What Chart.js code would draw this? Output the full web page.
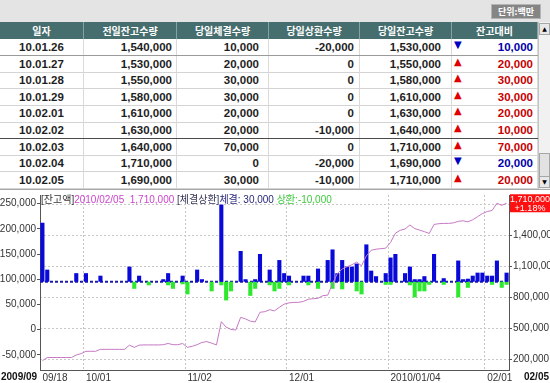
<!DOCTYPE html>
<html>
<head>
<meta charset="utf-8">
<script src="https://cdn.jsdelivr.net/npm/chart.js@4.4.1/dist/chart.umd.min.js"></script>
<style>
  html, body { margin: 0; padding: 0; }
  body { width: 550px; height: 383px; overflow: hidden; background: #fff; position: relative; }
  #topbar { position: absolute; left: 0; top: 0; width: 550px; height: 22px; background: #e4e4e4; }
  #unit { position: absolute; left: 491px; top: 4px; width: 50px; height: 15px; background: #858585;
          border: 1px solid #b4b4b4; box-sizing: border-box; color: #fff;
          font: bold 9px 'Noto Sans CJK KR'; line-height: 13px; text-align: center; }
  #grid { position: absolute; left: 0; top: 22px; width: 538px; height: 167px; }
  .hd { position: absolute; top: 0; height: 17px; background: #466e6e; color: #fff;
        font: bold 10px 'Noto Sans CJK KR'; line-height: 17px; text-align: center;
        box-sizing: border-box; border-right: 1px solid #86a3a3; }
  .cell { position: absolute; box-sizing: border-box; border-right: 1px solid #dadada;
          font: bold 11.5px 'Liberation Sans Narrow', 'Liberation Sans', sans-serif;
          color: #1e1e1e; white-space: nowrap; }
  .rowline { position: absolute; left: 0; width: 538px; height: 1px; background: #d4d4d4; }
  .tri { position: absolute; left: 2px; font: 10px 'DejaVu Sans'; }
  #sb { position: absolute; left: 538px; top: 22px; width: 12px; height: 167px; background: #f1f1f1;
        border-left: 1px solid #c4c4c4; box-sizing: border-box; }
  .sbtn { position: absolute; left: 0; width: 11px; height: 12px; background: #e8e8e8;
          border: 1px solid #a6a6a6; box-sizing: border-box; font: 6px 'DejaVu Sans';
          text-align: center; line-height: 10px; color: #000; }
  #thumb { position: absolute; left: 0; top: 131px; width: 11px; height: 24px; background: #e2e2e2;
           border: 1px solid #a6a6a6; box-sizing: border-box; }
  #sep { position: absolute; left: 0; top: 189px; width: 550px; height: 1px; background: #a8a8a8; }
  #chartBox { position: absolute; left: 0; top: 188px; width: 550px; height: 195px; }
</style>
</head>
<body>
<div id="topbar"><div id="unit">단위:백만</div></div>
<div id="grid"></div>
<div id="sb">
  <div class="sbtn" style="top:1px">▲</div>
  <div id="thumb"></div>
  <div class="sbtn" style="top:154px">▼</div>
</div>
<div id="chartBox"><canvas id="chart"></canvas></div>
<div id="sep"></div>
<script>
// ---- table data ----
const HEADERS = ['일자', '전일잔고수량', '당일체결수량', '당일상환수량', '당일잔고수량', '잔고대비'];
const TBL_DATES = ['10.01.26', '10.01.27', '10.01.28', '10.01.29', '10.02.01', '10.02.02', '10.02.03', '10.02.04', '10.02.05'];
const PREV_BAL = [1540000, 1530000, 1550000, 1580000, 1610000, 1630000, 1640000, 1710000, 1690000];
const EXEC_QTY = [10000, 20000, 30000, 30000, 20000, 20000, 70000, 0, 30000];
const REPAY_QTY = [-20000, 0, 0, 0, 0, -10000, 0, -20000, -10000];
const TODAY_BAL = [1530000, 1550000, 1580000, 1610000, 1630000, 1640000, 1710000, 1690000, 1710000];
const BAL_DIFF = [-10000, 20000, 30000, 30000, 20000, 10000, 70000, -20000, 20000];

// ---- chart data ----
const DATES = [
  '09/18', '09/21', '09/22', '09/23', '09/24', '09/25', '09/28', '09/29', '09/30',
  '10/01', '10/05', '10/06', '10/07', '10/08', '10/09', '10/12', '10/13', '10/14', '10/15', '10/16',
  '10/19', '10/20', '10/21', '10/22', '10/23', '10/26', '10/27', '10/28', '10/29', '10/30',
  '11/02', '11/03', '11/04', '11/05', '11/06', '11/09', '11/10', '11/11', '11/12', '11/13',
  '11/16', '11/17', '11/18', '11/19', '11/20', '11/23', '11/24', '11/25', '11/26', '11/27', '11/30',
  '12/01', '12/02', '12/03', '12/04', '12/07', '12/08', '12/09', '12/10', '12/11', '12/14',
  '12/15', '12/16', '12/17', '12/18', '12/21', '12/22', '12/23', '12/24', '12/28', '12/29', '12/30',
  '01/04', '01/05', '01/06', '01/07', '01/08', '01/11', '01/12', '01/13', '01/14', '01/15',
  '01/18', '01/19', '01/20', '01/21', '01/22', '01/25', '01/26', '01/27', '01/28', '01/29',
  '02/01', '02/02', '02/03', '02/04', '02/05'
];
const TICK_DATES = ['09/18', '10/01', '11/02', '12/01', '01/04', '02/01'];
const TICK_TEXT = ['09/18', '10/01', '11/02', '12/01', '2010/01/04', '02/01'];
const FIRST_LABEL = '2009/09';
const LAST_DATE = '2010/02/05';

// balance (right axis)
const BALANCE = [
  185000, 216000, 216000, 216000, 216000, 216000, 216000, 240000, 254000,
  276000, 276000, 276000, 295000, 295000, 295000, 295000, 295000, 295000, 336000, 314000,
  336000, 338000, 338000, 338000, 338000, 340000, 352000, 340000, 340000, 352000,
  314000, 325000, 340000, 362000, 370000, 355000, 338000, 563000, 510000, 488000,
  482000, 605000, 590000, 568000, 560000, 654000, 660000, 679000, 668000, 702000, 733000,
  745000, 750000, 750000, 760000, 781000, 785000, 790000, 815000, 820000, 930000,
  1030000, 1073000, 1095000, 1115000, 1140000, 1105000, 1200000, 1255000, 1265000, 1270000, 1275000,
  1330000, 1420000, 1448000, 1460000, 1500000, 1465000, 1450000, 1435000, 1418000, 1505000,
  1512000, 1515000, 1515000, 1520000, 1535000, 1540000, 1530000, 1550000, 1580000, 1610000,
  1630000, 1640000, 1710000, 1690000, 1710000
];
// bar heights above / below the bar baseline, in thousands of left-axis units
const EXEC_BAR = [
  117, 24, 0, 0, 0, 0, 0, 17, 0,
  17, 0, 0, 12, 0, 0, 0, 0, 0, 30, 0, 12, 0, 0, 0, 0, 5, 17, 0, 0, 12,
  0, 0, 24, 5, 0, 0, 0, 153, 0, 0, 0, 61, 5, 0, 5, 55, 0, 24, 0, 43, 17,
  12, 0, 0, 12, 12, 0, 26, 0, 43, 64, 17, 43, 30, 30, 36, 0, 74, 22, 11, 0, 17,
  48, 55, 0, 17, 30, 5, 5, 11, 0, 55, 0, 7, 0, 0, 42, 5, 6, 12, 18, 18,
  12, 12, 42, 0, 18
];
const REPAY_BAR = [
  0, 0, 0, 0, 0, 0, 0, 0, 0,
  0, 0, 0, 0, 0, 0, 0, 0, 0, 0, 14, 0, 0, 7, 0, 0, 0, 7, 14, 0, 5,
  25, 0, 0, 0, 0, 19, 0, 7, 37, 19, 0, 0, 0, 28, 14, 0, 0, 7, 19, 14, 0,
  7, 0, 0, 0, 7, 0, 14, 0, 0, 14, 0, 15, 0, 0, 19, 25, 0, 0, 0, 0, 6,
  6, 0, 0, 0, 7, 31, 19, 19, 6, 0, 0, 6, 0, 0, 31, 0, 12, 0, 0, 0,
  0, 6, 0, 12, 6
];
const BAR_BASE = 95000;
const LEFT_TICKS = [-50000, 0, 50000, 100000, 150000, 200000, 250000];
const RIGHT_TICKS = [200000, 500000, 800000, 1100000, 1400000, 1700000];

const fmt = v => v.toLocaleString('en-US');

// ---- build table ----
const COLS = [
  { x0: 0, x1: 84, align: 'center', pad: 0 },
  { x0: 84, x1: 177, align: 'right', pad: 4 },
  { x0: 177, x1: 269, align: 'right', pad: 9 },
  { x0: 269, x1: 360, align: 'right', pad: 5 },
  { x0: 360, x1: 452, align: 'right', pad: 10 },
  { x0: 452, x1: 538, align: 'right', pad: 4 }
];
const grid = document.getElementById('grid');
const ROW_TOP = 17, ROW_H = 16.6;
HEADERS.forEach((h, c) => {
  const d = document.createElement('div');
  d.className = 'hd';
  d.style.left = COLS[c].x0 + 'px';
  d.style.width = (COLS[c].x1 - COLS[c].x0) + 'px';
  d.textContent = h;
  grid.appendChild(d);
});
TBL_DATES.forEach((dt, r) => {
  const vals = [dt, fmt(PREV_BAL[r]), fmt(EXEC_QTY[r]), fmt(REPAY_QTY[r]), fmt(TODAY_BAL[r]), fmt(Math.abs(BAL_DIFF[r]))];
  const top = ROW_TOP + r * ROW_H;
  vals.forEach((v, c) => {
    const d = document.createElement('div');
    d.className = 'cell';
    d.style.left = COLS[c].x0 + 'px';
    d.style.width = (COLS[c].x1 - COLS[c].x0) + 'px';
    d.style.top = top + 'px';
    d.style.height = ROW_H + 'px';
    d.style.lineHeight = (ROW_H + 1) + 'px';
    d.style.textAlign = COLS[c].align;
    d.style.paddingRight = COLS[c].pad + 'px';
    d.textContent = v;
    if (c === 5) {
      const up = BAL_DIFF[r] > 0;
      d.style.color = up ? '#c80000' : '#0000a8';
      const t = document.createElement('span');
      t.className = 'tri';
      t.style.color = up ? '#e00000' : '#0000c0';
      t.textContent = up ? '▲' : '▼';
      d.appendChild(t);
    }
    grid.appendChild(d);
  });
  const ln = document.createElement('div');
  ln.className = 'rowline';
  ln.style.top = (top + ROW_H - 0.5) + 'px';
  if (r === 0) ln.style.background = '#9a9a9a';
  if (r === 5) ln.style.background = '#4a4a4a';
  grid.appendChild(ln);
});

// ---- chart ----
Chart.defaults.font.family = "'Liberation Sans Narrow', 'Liberation Sans', 'Noto Sans CJK KR', sans-serif";
Chart.defaults.font.size = 10;
Chart.defaults.color = '#222';

const execData = EXEC_BAR.map(h => h > 0 ? [BAR_BASE, BAR_BASE + h * 1000] : null);
const repayData = REPAY_BAR.map(h => h > 0 ? [BAR_BASE - h * 1000, BAR_BASE] : null);

const overlay = {
  id: 'overlay',
  beforeDatasetsDraw(chart) {
    const { ctx, chartArea: a, scales } = chart;
    const y = scales.y.getPixelForValue(BAR_BASE);
    ctx.save();
    ctx.strokeStyle = '#1c1ca8';
    ctx.lineWidth = 2;
    ctx.setLineDash([3, 2]);
    ctx.beginPath();
    ctx.moveTo(a.left, y);
    ctx.lineTo(a.right, y);
    ctx.stroke();
    ctx.restore();
  },
  afterDraw(chart) {
    const { ctx, chartArea: a, scales } = chart;
    const n = BALANCE.length;
    ctx.save();
    // header legend
    const segs = [
      ['[잔고액]', '#333333'],
      [LAST_DATE, '#cc44cc'],
      ['  ' + fmt(BALANCE[n - 1]), '#cc44cc'],
      [' [체결상환]', '#333355'],
      ['체결: ', '#28287a'],
      [fmt(EXEC_QTY[EXEC_QTY.length - 1]), '#28287a'],
      [' 상환:' + fmt(REPAY_QTY[REPAY_QTY.length - 1]), '#3ccc3c']
    ];
    ctx.font = "10px 'Liberation Sans Narrow', 'Liberation Sans', 'Noto Sans CJK KR'";
    ctx.textBaseline = 'middle';
    let x = a.left + 1;
    segs.forEach(([t, c]) => {
      ctx.fillStyle = c;
      ctx.fillText(t, x, a.top + 5);
      x += ctx.measureText(t).width;
    });
    // last value box on the right axis
    const yv = scales.y2.getPixelForValue(BALANCE[n - 1]);
    const pct = (BALANCE[n - 1] - BALANCE[n - 2]) / BALANCE[n - 2] * 100;
    ctx.fillStyle = '#ff1010';
    ctx.fillRect(a.right + 1, yv - 9, chart.width - a.right - 1, 18);
    ctx.fillStyle = '#fff';
    ctx.textAlign = 'center';
    ctx.font = "9px 'Liberation Sans Narrow', 'Liberation Sans'";
    const cx = (a.right + 1 + chart.width) / 2;
    ctx.fillText(fmt(BALANCE[n - 1]), cx, yv - 4);
    ctx.fillText((pct >= 0 ? '+' : '') + pct.toFixed(2) + '%', cx, yv + 5);
    // corner labels of the date axis
    ctx.fillStyle = '#111';
    ctx.font = "bold 10px 'Liberation Sans Narrow', 'Liberation Sans'";
    ctx.textAlign = 'left';
    ctx.fillText(FIRST_LABEL, 1, a.bottom + 7);
    ctx.textAlign = 'right';
    ctx.fillText(DATES[n - 1], chart.width - 1, a.bottom + 7);
    ctx.restore();
  }
};

new Chart(document.getElementById('chart').getContext('2d'), {
  type: 'bar',
  data: {
    labels: DATES,
    datasets: [
      {
        type: 'line',
        label: '잔고액',
        data: BALANCE,
        yAxisID: 'y2',
        borderColor: '#c47ac4',
        borderWidth: 1,
        pointRadius: 0,
        tension: 0,
        order: 0
      },
      {
        label: '체결',
        data: execData,
        yAxisID: 'y',
        backgroundColor: '#0a0ad8',
        grouped: false,
        barPercentage: 0.85,
        categoryPercentage: 1.0,
        order: 1
      },
      {
        label: '상환',
        data: repayData,
        yAxisID: 'y',
        backgroundColor: '#2ee82e',
        grouped: false,
        barPercentage: 0.85,
        categoryPercentage: 1.0,
        order: 1
      }
    ]
  },
  options: {
    responsive: true,
    maintainAspectRatio: false,
    animation: false,
    layout: { padding: { top: 4 } },
    plugins: {
      legend: { display: false },
      tooltip: { enabled: false }
    },
    scales: {
      x: {
        grid: {
          offset: true,
          drawTicks: false,
          color: ctx => (ctx.index > 0 && TICK_DATES.includes(DATES[ctx.index])) ? '#c4c4c4' : 'transparent'
        },
        border: { color: '#555', dash: [2, 2] },
        ticks: {
          autoSkip: false,
          maxRotation: 0,
          align: 'start',
          padding: 2,
          color: '#333',
          callback: (v, i) => {
            const k = TICK_DATES.indexOf(DATES[i]);
            return k >= 0 ? TICK_TEXT[k] : '';
          }
        },
        afterFit: s => { s.height = 13; }
      },
      y: {
        position: 'left',
        min: -80000,
        max: 267000,
        afterBuildTicks: s => { s.ticks = LEFT_TICKS.map(v => ({ value: v })); },
        grid: { drawOnChartArea: false, tickLength: 3, tickColor: '#555' },
        border: { color: '#555' },
        ticks: { padding: 1, color: '#333', callback: v => fmt(v) },
        afterFit: s => { s.width = 40; }
      },
      y2: {
        position: 'right',
        min: 95000,
        max: 1790000,
        afterBuildTicks: s => { s.ticks = RIGHT_TICKS.map(v => ({ value: v })); },
        grid: { color: '#c8c8c8', tickLength: 3, tickColor: '#555' },
        border: { color: '#555', dash: [2, 2] },
        ticks: { padding: 1, color: '#333', callback: v => fmt(v) },
        afterFit: s => { s.width = 41; }
      }
    }
  },
  plugins: [overlay]
});
</script>
</body>
</html>
